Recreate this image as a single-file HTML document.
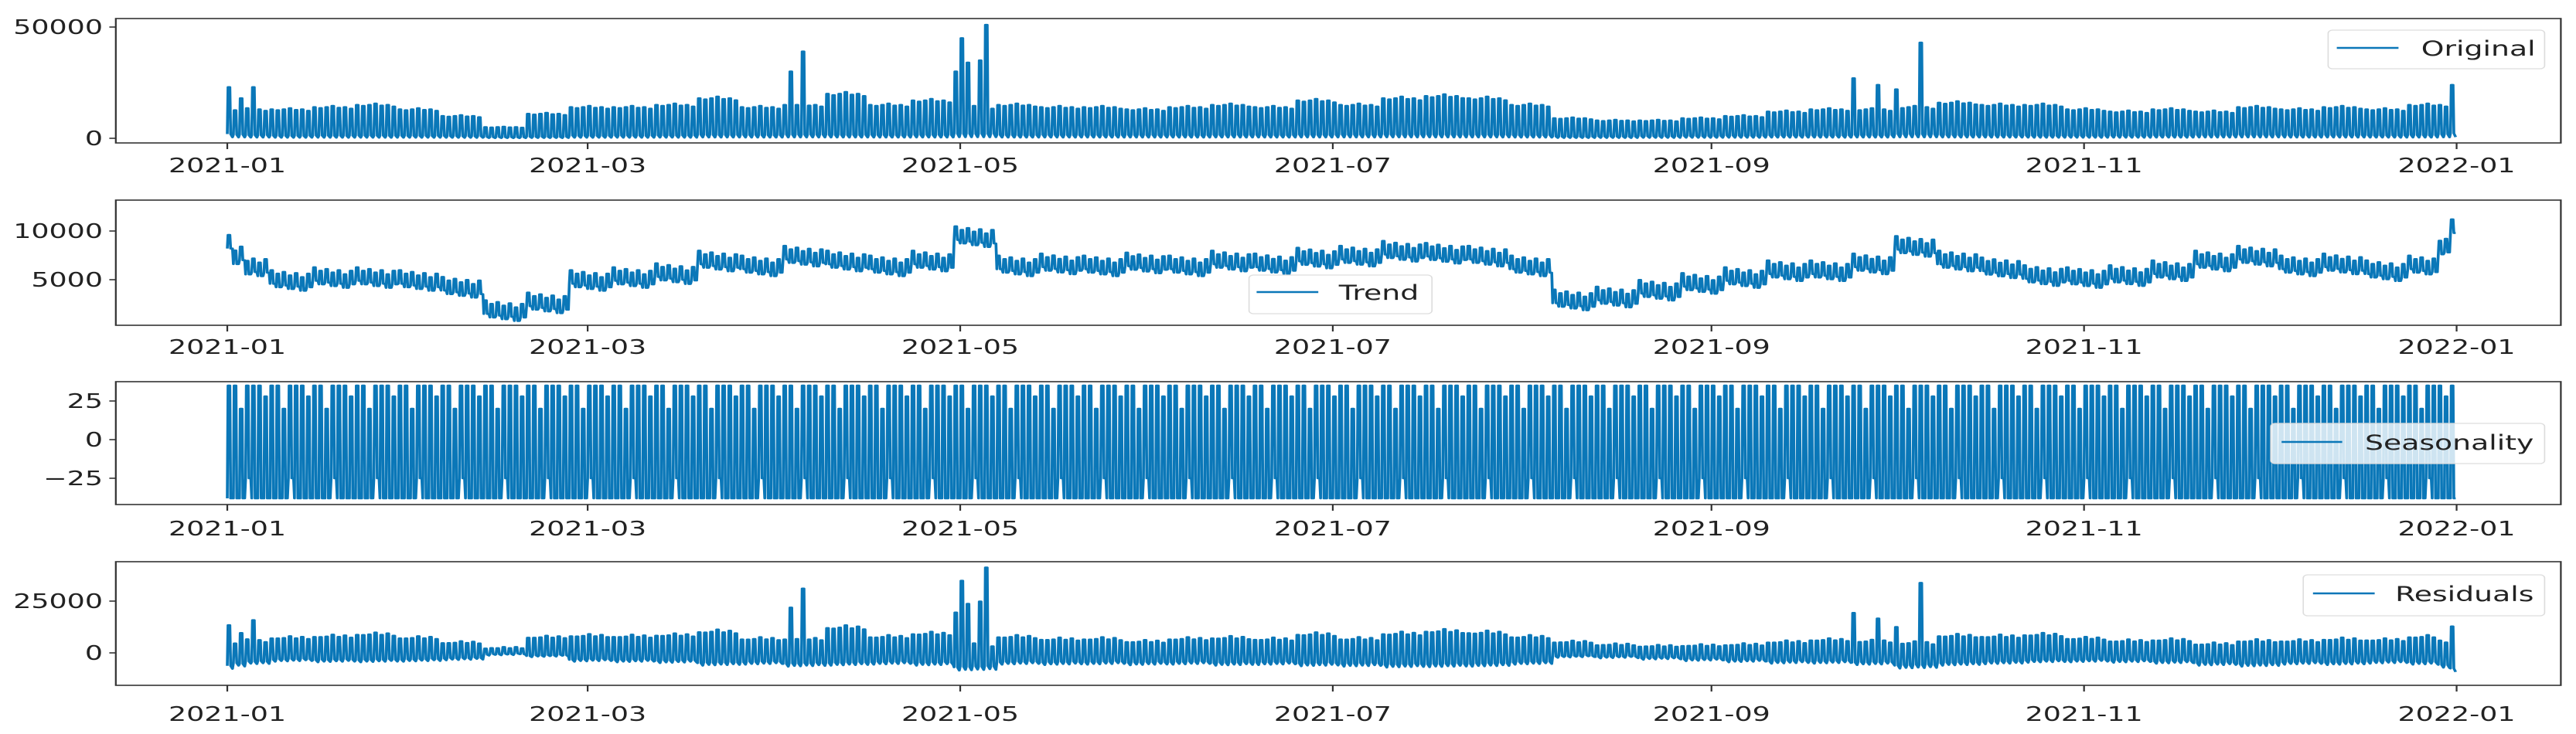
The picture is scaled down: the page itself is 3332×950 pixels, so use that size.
<!DOCTYPE html>
<html><head><meta charset="utf-8"><style>
html,body{margin:0;padding:0;background:#fff;}
svg{display:block;}
text{font-family:"DejaVu Sans","Liberation Sans",sans-serif;fill:#222;}
</style></head>
<body>
<svg id="fig" width="3332" height="950" viewBox="0 0 2380 950" preserveAspectRatio="none" xmlns="http://www.w3.org/2000/svg"></svg>
<script>
// ---- data (thousands, weekly) ----
const monthTickDays = [0, 59, 120, 181, 243, 304, 365];
const monthTickLabels = ["2021-01","2021-03","2021-05","2021-07","2021-09","2021-11","2022-01"];
const weeklyHigh = [13,13,14,15,13,10,5,11,14,14,15,18,14,15,20,15,17,14,15,14,14,13,14,15,14,17,15,18,19,18,15,9,8,8,9,10,12,13,13,14,16,15,15,13,12,13,12,14,13,14,13,15,14];
const weeklyTrend = [7.0,5.5,5.8,5.8,5.5,4.8,2.4,3.2,5.5,5.8,6.2,7.5,7.0,8.0,7.5,7.0,7.5,10.0,7.0,7.2,7.0,7.3,7.0,7.5,7.2,7.8,8.0,8.5,8.3,8.0,7.0,3.5,3.8,4.5,5.2,5.8,6.5,6.5,7.2,9.0,7.5,6.8,6.0,5.8,6.0,6.5,7.5,8.0,7.0,7.2,6.5,7.0,7.0];
const dowHighScale = [1.0,0.97,1.0,1.04,0.98,1.0,0.95];
const dowTrendOffset = [0.8,0.2,0.5,-0.1,0.3,-0.4,0.2];
const seasonalHigh = [35,35,20,35,35,35,28];
const seasonalLow = [-38,-38,-38,-25,-38,-38,-38];
const spikeDays = [0,2,4,92,94,119,120,121,123,124,266,270,273,277,364];
const spikeValues = [23,18,23,30,39,30,45,34,35,51,27,24,22,43,24];
const trendEndDays = [0,1,2,362,363,364];
const trendEndValues = [9.6,8.0,8.4,9.0,9.2,11.2];

const NS = "http://www.w3.org/2000/svg";
const svg = document.getElementById('fig');
function mk(tag, attrs, parent){const e=document.createElementNS(NS,tag);for(const k in attrs)e.setAttribute(k,attrs[k]);(parent||svg).appendChild(e);return e;}

const X0 = 210, PXD = 5.643, AX_L = 107, AX_R = 2366;
const xDay = d => X0 + d*PXD;
const nDays = 365;
const subT = [0, 0.12, 0.42, 0.55, 0.85];
const subHigh = [0, 1, 1, 0, 0];

const tt=[], orig=[], trend=[], seas=[], resid=[];
for(let d=0; d<nDays; d++){
  const w=Math.floor(d/7), dw=d%7;
  let t = (weeklyTrend[w] + dowTrendOffset[dw]*0.6)*1000;
  const ti = trendEndDays.indexOf(d); if(ti>=0) t = trendEndValues[ti]*1000;
  let H = weeklyHigh[w]*dowHighScale[dw]*1000;
  const si = spikeDays.indexOf(d); if(si>=0) H = spikeValues[si]*1000;
  subT.forEach((o,k)=>{
    const hi = subHigh[k];
    const ov = hi ? H : (k===4 ? t*0.05 : t*0.2);
    const tv = hi ? t : t-1400;
    const sv = hi ? seasonalHigh[dw] : seasonalLow[dw];
    tt.push(d+o); orig.push(ov); trend.push(tv); seas.push(sv); resid.push(ov-tv-sv);
  });
}

const panels = [
  {name:'original', top:24, bot:185, y:v=>179-v*0.00288, data:orig, ticks:[0,50000], labels:["0","50000"], xlab:223,
   legend:{label:"Original", box:[2151,39,200,50], line:[2159,2216,62], tx:2237, alpha:1}},
  {name:'trend', top:259, bot:421, y:v=>362-(v-5000)*63/5000, data:trend, ticks:[5000,10000], labels:["5000","10000"], xlab:458,
   legend:{label:"Trend", box:[1154,356,169,50], line:[1161,1218,378], tx:1237, alpha:0.8}},
  {name:'seasonality', top:494, bot:653, y:v=>569-v*2.0, data:seas, ticks:[-25,0,25], labels:["\u221225","0","25"], xlab:693,
   legend:{label:"Seasonality", box:[2098,548,253,52], line:[2108,2164,572], tx:2185, alpha:0.8}},
  {name:'residuals', top:727, bot:887, y:v=>845-v*67/25000, data:resid, ticks:[0,25000], labels:["0","25000"], xlab:933,
   legend:{label:"Residuals", box:[2128,744,223,53], line:[2137,2194,768], tx:2213, alpha:0.8}}
];

panels.forEach(p=>{
  const g = mk('g',{});
  
  
  const bg = mk('rect',{x:AX_L,y:p.top,width:AX_R-AX_L,height:p.bot-p.top,fill:'#fff'},g);
  
  
  let dstr='';
  p.data.forEach((v,i)=>{dstr += (i?'L':'M') + xDay(tt[i]).toFixed(2)+','+p.y(v).toFixed(2);});
  const line = mk('path',{d:dstr,fill:'none',stroke:'#0a77b8','stroke-width':2.6,'stroke-linejoin':'round'},g);
  
  
  const frame = mk('rect',{x:AX_L,y:p.top,width:AX_R-AX_L,height:p.bot-p.top,fill:'none',stroke:'#333','stroke-width':1.6},g);
  
  
  p.ticks.forEach((tv,i)=>{
    const yy=p.y(tv);
    const tk = mk('line',{x1:AX_L-6,x2:AX_L,y1:yy,y2:yy,stroke:'#333','stroke-width':1.6},g);
    
    
    const tl = mk('text',{x:AX_L-12,y:yy+9,'text-anchor':'end','font-size':26},g);
    tl.textContent = p.labels[i];
    
    
  });
  monthTickDays.forEach((md,i)=>{
    const xx=xDay(md);
    const tk = mk('line',{x1:xx,x2:xx,y1:p.bot,y2:p.bot+8,stroke:'#333','stroke-width':1.6},g);
    
    
    const tl = mk('text',{x:xx,y:p.xlab,'text-anchor':'middle','font-size':26},g);
    tl.textContent = monthTickLabels[i];
    
    
  });
  const L=p.legend;
  const lg = mk('g',{},g);
  
  
  mk('rect',{x:L.box[0],y:L.box[1],width:L.box[2],height:L.box[3],rx:4,fill:'#fff','fill-opacity':L.alpha,stroke:'#ddd','stroke-width':1.2},lg);
  const ll = mk('line',{x1:L.line[0],x2:L.line[1],y1:L.line[2],y2:L.line[2],stroke:'#0a77b8','stroke-width':2.6},lg);
  
  
  const lt = mk('text',{x:L.tx,y:L.line[2]+10,'font-size':27},lg);
  lt.textContent = L.label;
  
  
});
</script>
</body></html>
